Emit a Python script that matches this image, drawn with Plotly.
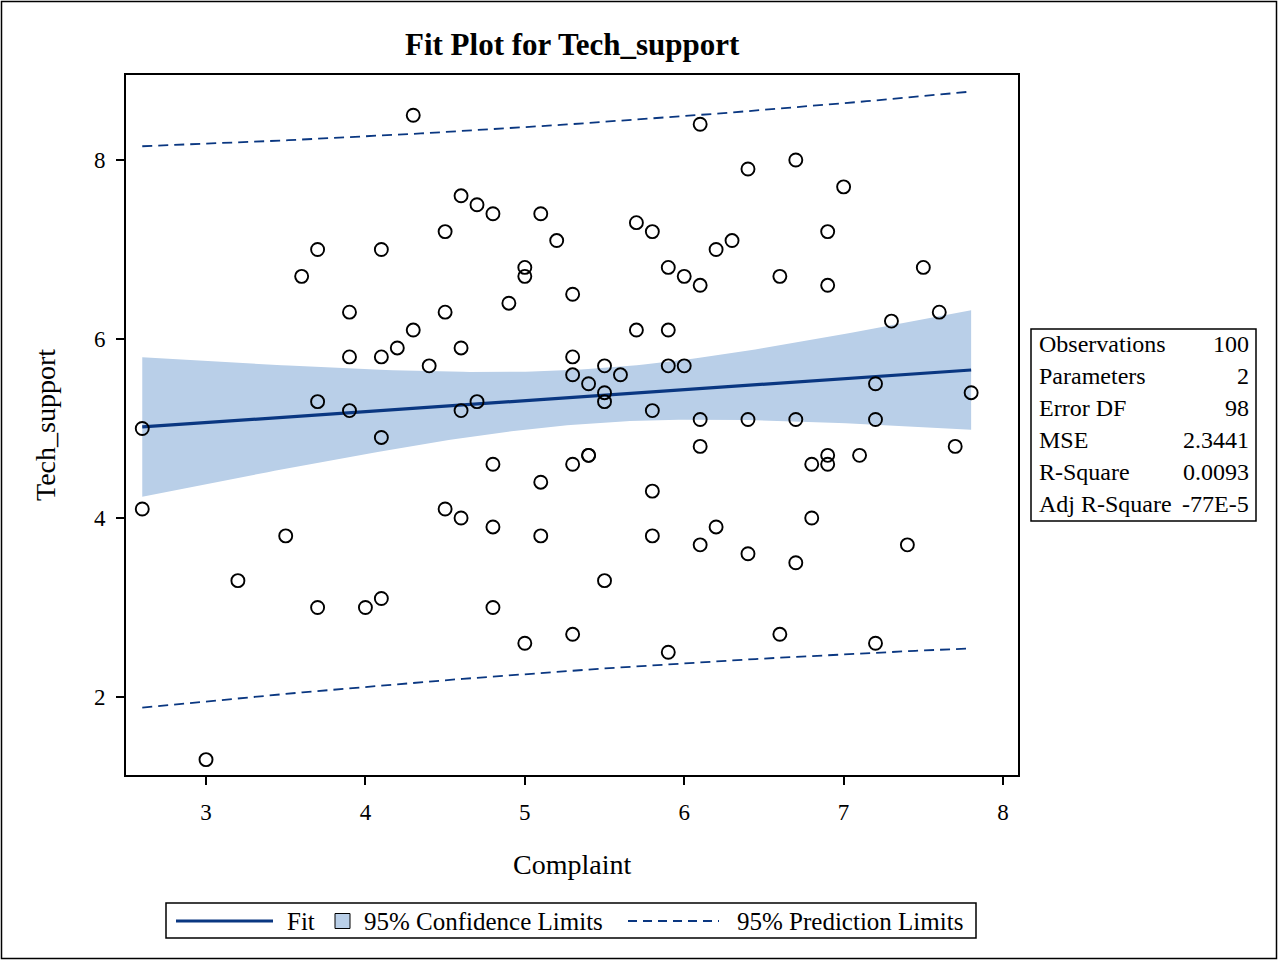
import numpy as np
import plotly.graph_objects as go

# ---- data ----
complaint = [2.6, 2.6, 3.0, 3.2, 3.5, 3.6, 3.7, 3.7, 3.7, 3.9,
             3.9, 3.9, 4.0, 4.1, 4.1, 4.1, 4.1, 4.2, 4.3, 4.3,
             4.4, 4.5, 4.5, 4.5, 4.6, 4.6, 4.6, 4.6, 4.7, 4.7,
             4.8, 4.8, 4.8, 4.8, 4.9, 5.0, 5.0, 5.0, 5.1, 5.1,
             5.1, 5.2, 5.3, 5.3, 5.3, 5.3, 5.3, 5.4, 5.4, 5.4,
             5.5, 5.5, 5.5, 5.5, 5.6, 5.7, 5.7, 5.8, 5.8, 5.8,
             5.8, 5.9, 5.9, 5.9, 5.9, 6.0, 6.0, 6.1, 6.1, 6.1,
             6.1, 6.1, 6.2, 6.2, 6.3, 6.4, 6.4, 6.4, 6.6, 6.6,
             6.7, 6.7, 6.7, 6.8, 6.8, 6.9, 6.9, 6.9, 6.9, 7.0,
             7.1, 7.2, 7.2, 7.2, 7.3, 7.4, 7.5, 7.6, 7.7, 7.8]
tech_support = [5.0, 4.1, 1.3, 3.3, 3.8, 6.7, 7.0, 5.3, 3.0, 6.3,
                5.8, 5.2, 3.0, 7.0, 5.8, 4.9, 3.1, 5.9, 6.1, 8.5,
                5.7, 7.2, 6.3, 4.1, 7.6, 5.9, 5.2, 4.0, 7.5, 5.3,
                7.4, 4.6, 3.9, 3.0, 6.4, 6.8, 6.7, 2.6, 7.4, 4.4,
                3.8, 7.1, 6.5, 5.8, 5.6, 4.6, 2.7, 5.5, 4.7, 4.7,
                5.7, 5.4, 5.3, 3.3, 5.6, 7.3, 6.1, 7.2, 5.2, 4.3,
                3.8, 6.8, 6.1, 5.7, 2.5, 6.7, 5.7, 8.4, 6.6, 5.1,
                4.8, 3.7, 7.0, 3.9, 7.1, 7.9, 5.1, 3.6, 6.7, 2.7,
                8.0, 5.1, 3.5, 4.6, 4.0, 7.2, 6.6, 4.7, 4.6, 7.7,
                4.7, 5.5, 5.1, 2.6, 6.2, 3.7, 6.8, 6.3, 4.8, 5.4]

stat_labels = ["Observations", "Parameters", "Error DF", "MSE", "R-Square", "Adj R-Square"]
stat_values = ["100", "2", "98", "2.3441", "0.0093", "-77E-5"]

x_ticks = [3, 4, 5, 6, 7, 8]
y_ticks = [2, 4, 6, 8]

# ---- ordinary least squares fit with 95% limits ----
xa = np.array(complaint)
ya = np.array(tech_support)
n = len(xa)
xbar = xa.mean()
sxx = ((xa - xbar) ** 2).sum()
b1 = ((xa - xbar) * (ya - ya.mean())).sum() / sxx
b0 = ya.mean() - b1 * xbar
mse = ((ya - (b0 + b1 * xa)) ** 2).sum() / (n - 2)
tval = 1.9845
xg = np.linspace(xa.min(), xa.max(), 120)
fit = b0 + b1 * xg
se_mean = np.sqrt(mse * (1.0 / n + (xg - xbar) ** 2 / sxx))
se_pred = np.sqrt(mse * (1.0 + 1.0 / n + (xg - xbar) ** 2 / sxx))
cl_lo, cl_hi = fit - tval * se_mean, fit + tval * se_mean
pl_lo, pl_hi = fit - tval * se_pred, fit + tval * se_pred

FIT_COLOR = "#0A3781"
BAND_COLOR = "#B9CFE8"
FONT = "Liberation Serif"
DASH = "10px,6px"

W, H = 1278, 961
L, R, T, B = 126, 1018, 75, 775


def px(xp):
    return (xp - L) / (R - L)


def py(yp):
    return (B - yp) / (B - T)


fig = go.Figure()
fig.add_trace(go.Scatter(x=np.concatenate([xg, xg[::-1]]),
                         y=np.concatenate([cl_hi, cl_lo[::-1]]),
                         fill="toself", fillcolor=BAND_COLOR, line=dict(width=0),
                         mode="lines", hoverinfo="skip", showlegend=False))
fig.add_trace(go.Scatter(x=xg, y=pl_hi, mode="lines",
                         line=dict(color=FIT_COLOR, width=1.8, dash=DASH), showlegend=False))
fig.add_trace(go.Scatter(x=xg, y=pl_lo, mode="lines",
                         line=dict(color=FIT_COLOR, width=1.8, dash=DASH), showlegend=False))
fig.add_trace(go.Scatter(x=xg, y=fit, mode="lines",
                         line=dict(color=FIT_COLOR, width=3.2), showlegend=False))
fig.add_trace(go.Scatter(x=complaint, y=tech_support, mode="markers",
                         marker=dict(symbol="circle-open", size=13, color="black",
                                     line=dict(width=1.9, color="black")),
                         showlegend=False))

shapes = []
annotations = []
# outer border
shapes.append(dict(type="rect", xref="paper", yref="paper",
                   x0=px(1.5), x1=px(1276.5), y0=py(958.5), y1=py(1.5),
                   line=dict(color="black", width=1.5)))
# stats table
tb_l, tb_r, tb_t, tb_b = 1031, 1256, 329, 521
shapes.append(dict(type="rect", xref="paper", yref="paper",
                   x0=px(tb_l), x1=px(tb_r), y0=py(tb_b), y1=py(tb_t),
                   line=dict(color="black", width=1.5)))
for i, (lab, val) in enumerate(zip(stat_labels, stat_values)):
    yc = 344 + 32 * i
    annotations.append(dict(xref="paper", yref="paper", x=px(1037), y=py(yc),
                            text=lab, showarrow=False, xanchor="left", yanchor="middle",
                            font=dict(family=FONT, size=24, color="black")))
    annotations.append(dict(xref="paper", yref="paper", x=px(1251), y=py(yc),
                            text=val, showarrow=False, xanchor="right", yanchor="middle",
                            font=dict(family=FONT, size=24, color="black")))
# legend box
lg_l, lg_r, lg_t, lg_b = 166, 976, 903, 938
lg_y = 921
shapes.append(dict(type="rect", xref="paper", yref="paper",
                   x0=px(lg_l), x1=px(lg_r), y0=py(lg_b), y1=py(lg_t),
                   line=dict(color="black", width=1.5)))
shapes.append(dict(type="line", xref="paper", yref="paper",
                   x0=px(176), x1=px(273), y0=py(lg_y), y1=py(lg_y),
                   line=dict(color=FIT_COLOR, width=3.2)))
shapes.append(dict(type="rect", xref="paper", yref="paper",
                   x0=px(335), x1=px(350), y0=py(928.5), y1=py(913.5),
                   fillcolor=BAND_COLOR, line=dict(color="black", width=1)))
shapes.append(dict(type="line", xref="paper", yref="paper",
                   x0=px(628), x1=px(719), y0=py(lg_y), y1=py(lg_y),
                   line=dict(color=FIT_COLOR, width=1.8, dash="9px,6px")))
for txt, xs in [("Fit", 285), ("95% Confidence Limits", 362), ("95% Prediction Limits", 735)]:
    annotations.append(dict(xref="paper", yref="paper", x=px(xs), y=py(lg_y),
                            text=txt, showarrow=False, xanchor="left", yanchor="middle",
                            font=dict(family=FONT, size=25, color="black")))
# axis titles
annotations.append(dict(xref="paper", yref="paper", x=0.5, y=py(864),
                        text="Complaint", showarrow=False, xanchor="center", yanchor="middle",
                        font=dict(family=FONT, size=28, color="black")))
annotations.append(dict(xref="paper", yref="paper", x=px(45), y=0.5,
                        text="Tech_support", showarrow=False, textangle=-90,
                        xanchor="center", yanchor="middle",
                        font=dict(family=FONT, size=28, color="black")))
# title
annotations.append(dict(xref="paper", yref="paper", x=0.5, y=py(44),
                        text="<b>Fit Plot for Tech_support</b>", showarrow=False,
                        xanchor="center", yanchor="middle",
                        font=dict(family=FONT, size=31, color="black")))

axis_common = dict(showgrid=False, zeroline=False, showline=True, linecolor="black",
                   linewidth=2, mirror=True, ticks="outside", ticklen=8, tickwidth=1.5,
                   tickcolor="black", tickfont=dict(family=FONT, size=23, color="black"))
fig.update_layout(
    width=W, height=H,
    margin=dict(l=L, r=W - R, t=T, b=H - B, pad=0),
    paper_bgcolor="white", plot_bgcolor="white",
    xaxis=dict(range=[2.498, 8.094], tickvals=x_ticks, ticktext=[str(v) for v in x_ticks],
               ticklabelstandoff=7, **axis_common),
    yaxis=dict(range=[1.128, 8.95], tickvals=y_ticks, ticktext=[str(v) for v in y_ticks],
               ticklabelstandoff=6, **axis_common),
    shapes=shapes, annotations=annotations, showlegend=False,
)
fig.write_html("out.html")
